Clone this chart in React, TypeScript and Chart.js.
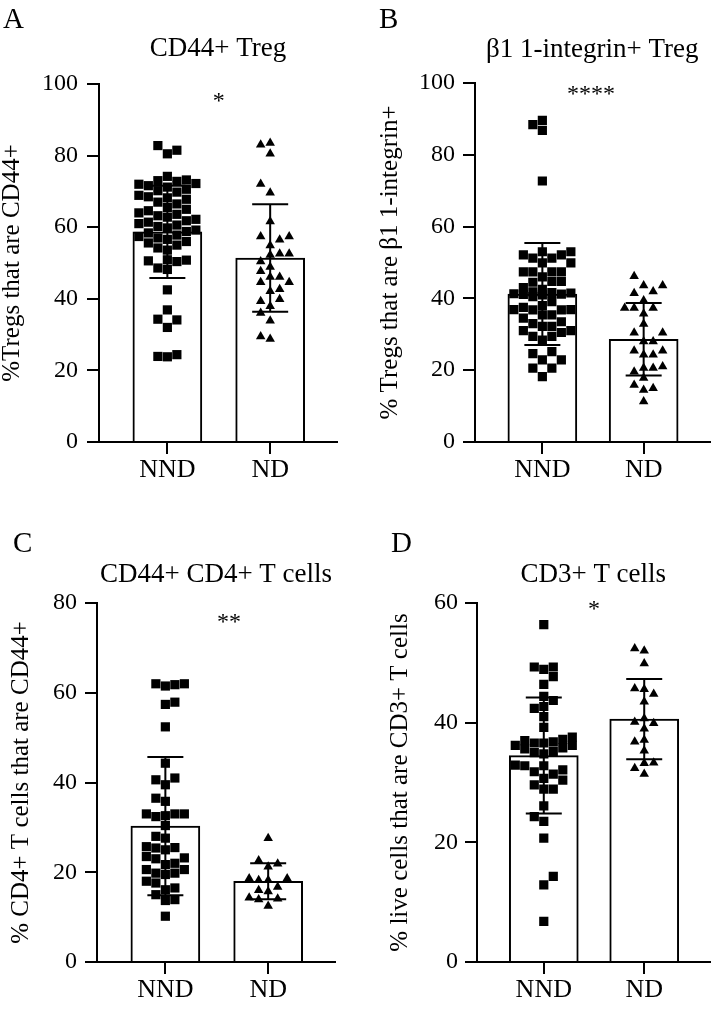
import React, { useEffect, useRef } from "react";
import { Chart, registerables } from "chart.js";

Chart.register(...registerables);

const FONT = '"Liberation Serif", "Times New Roman", serif';

const categories = ["NND", "ND"];

// ---------- Panel A: CD44+ Treg ----------
const aNND = [
  82.8, 80.5, 81.5, 74.2, 73.2, 73.0, 72.8, 72.2, 72.0, 71.6, 71.2, 70.6, 70.2, 69.8,
  68.9, 68.5, 68.2, 67.8, 67.0, 66.5, 65.5, 65.0, 64.6, 64.0, 63.6, 63.2, 62.8, 62.2,
  61.8, 61.4, 61.0, 60.6, 60.2, 59.8, 59.2, 58.8, 58.4, 57.8, 57.4, 57.0, 56.6, 56.0,
  55.6, 55.0, 54.2, 53.6, 50.8, 50.6, 50.4, 50.9, 48.6, 48.2, 42.5, 36.9, 34.1, 34.3,
  32.0, 24.4, 23.8, 23.9,
];
const aND = [
  83.0, 83.5, 80.5, 72.1, 69.6, 61.6, 57.4, 57.4, 56.5, 54.9, 52.6, 52.2, 52.6, 50.4,
  48.9, 47.7, 46.1, 44.6, 46.1, 44.6, 42.7, 42.1, 39.9, 39.3, 37.9, 36.0, 33.9, 28.8, 29.5,
];
const aMean = [58.7, 51.4];
const aSD = [12.9, 15.0];

// ---------- Panel B: β1 1-integrin+ Treg ----------
const bNND = [
  88.4, 86.8, 89.6, 72.7, 53.0, 53.0, 52.1, 52.1, 51.2, 51.2, 49.9, 49.9, 47.4, 47.4,
  47.4, 47.4, 46.0, 44.7, 44.7, 44.5, 43.0, 42.5, 41.8, 41.5, 41.2, 41.0, 41.3, 41.6,
  41.1, 40.5, 39.1, 38.0, 37.5, 36.8, 36.8, 36.9, 36.9, 35.4, 35.4, 34.5, 33.5, 33.0,
  32.2, 32.2, 31.0, 31.0, 30.5, 29.4, 29.4, 28.4, 25.2, 24.6, 22.9, 22.9, 20.6, 20.6, 18.2,
];
const bND = [
  46.2, 43.6, 43.6, 41.4, 41.9, 39.4, 37.3, 37.3, 37.3, 35.7, 32.9, 30.4, 30.4, 28.0,
  28.0, 25.4, 25.4, 24.3, 24.3, 21.0, 20.6, 20.6, 17.8, 19.6, 15.0, 15.9, 14.5, 11.3,
];
const bMean = [41.2, 28.6];
const bSD = [14.2, 10.1];

// ---------- Panel C: CD44+ CD4+ T cells ----------
const cNND = [
  62.0, 61.8, 61.5, 62.0, 57.4, 57.9, 52.4, 44.3, 40.6, 41.0, 39.5, 35.8, 36.5, 33.0,
  32.6, 32.4, 33.0, 33.0, 30.4, 27.6, 28.0, 25.4, 25.0, 23.2, 23.5, 25.5, 25.7, 23.0,
  22.0, 20.6, 19.8, 19.8, 20.6, 21.7, 19.5, 17.6, 16.1, 16.5, 18.0, 15.0, 13.9, 13.7, 10.2,
];
const cND = [
  27.6, 22.6, 21.9, 21.2, 18.6, 18.2, 18.2, 18.6, 16.7, 15.7, 16.0, 14.3, 14.1, 12.5, 13.9,
];
const cMean = [30.3, 18.0];
const cSD = [15.4, 4.0];

// ---------- Panel D: CD3+ T cells ----------
const dNND = [
  56.4, 49.3, 48.9, 49.3, 47.7, 46.4, 44.4, 43.7, 42.4, 42.7, 41.0, 39.2, 37.6, 36.8,
  37.2, 36.6, 36.6, 37.0, 36.2, 35.8, 35.2, 35.6, 36.2, 34.8, 35.0, 32.9, 32.8, 31.8,
  32.1, 32.8, 31.4, 30.7, 30.4, 29.6, 28.9, 28.9, 26.1, 24.3, 23.5, 20.7, 14.3, 12.9, 6.8,
];
const dND = [
  52.4, 52.0, 49.9, 45.7, 44.8, 45.6, 43.5, 39.9, 39.0, 40.7, 40.1, 36.8, 37.1, 35.3,
  33.2, 32.4, 33.3, 31.4,
];
const dMean = [34.5, 40.6];
const dSD = [9.7, 6.7];

const yTicksA = [0, 20, 40, 60, 80, 100];
const yTicksC = [0, 20, 40, 60, 80];
const yTicksD = [0, 20, 40, 60];

interface PanelDef {
  letter: string;
  title: string;
  yTitle: string;
  sig: string;
  sigX: number;
  sigY: number;
  yTicks: number[];
  groups: number[][];
  means: number[];
  sds: number[];
  box: { left: number; top: number; width: number; height: number };
  area: { left: number; right: number; top: number; bottom: number };
  letterPos: [number, number];
  titleBase: number;
  yTitlePad: number;
  tickPad: number;
}

const panels: PanelDef[] = [
  {
    letter: "A", title: "CD44+ Treg", yTitle: "%Tregs that are CD44+", sig: "*",
    sigX: 0.5, sigY: 96.2, yTicks: yTicksA, groups: [aNND, aND], means: aMean, sds: aSD,
    box: { left: 0, top: 0, width: 358, height: 505 },
    area: { left: 99, right: 337, top: 84, bottom: 442 },
    letterPos: [3, 28], titleBase: 56, yTitlePad: 0, tickPad: 9,
  },
  {
    letter: "B", title: "β1 1-integrin+ Treg", yTitle: "% Tregs that are β1 1-integrin+", sig: "****",
    sigX: 0.48, sigY: 97.8, yTicks: yTicksA, groups: [bNND, bND], means: bMean, sds: bSD,
    box: { left: 358, top: 0, width: 358, height: 505 },
    area: { left: 117, right: 354, top: 83, bottom: 442 },
    letterPos: [21, 28], titleBase: 57, yTitlePad: 19.5, tickPad: 8,
  },
  {
    letter: "C", title: "CD44+ CD4+ T cells", yTitle: "% CD4+ T cells that are CD44+", sig: "**",
    sigX: 0.62, sigY: 76.5, yTicks: yTicksC, groups: [cNND, cND], means: cMean, sds: cSD,
    box: { left: 0, top: 520, width: 358, height: 490 },
    area: { left: 97, right: 335, top: 83, bottom: 442 },
    letterPos: [13, 32], titleBase: 62, yTitlePad: 9, tickPad: 8,
  },
  {
    letter: "D", title: "CD3+ T cells", yTitle: "% live cells that are CD3+ T cells", sig: "*",
    sigX: 0.5, sigY: 59.6, yTicks: yTicksD, groups: [dNND, dND], means: dMean, sds: dSD,
    box: { left: 358, top: 520, width: 358, height: 490 },
    area: { left: 119, right: 354, top: 83, bottom: 442 },
    letterPos: [33, 32], titleBase: 62, yTitlePad: 29.5, tickPad: 7,
  },
];

// Beeswarm: returns horizontal pixel offsets for points given their pixel y.
function swarm(py: number[], size: number, step: number, maxK: number): number[] {
  const idx = py.map((_, i) => i).sort((a, b) => py[b] - py[a]);
  const placed: { x: number; y: number }[] = [];
  const out = new Array(py.length).fill(0);
  idx.forEach((i, n) => {
    const y = py[i];
    const sgn = n % 2 === 0 ? 1 : -1;
    const cands = [0];
    for (let k = 1; k <= maxK; k++) cands.push(sgn * k * step, -sgn * k * step);
    let best = 0;
    let bestCost = Infinity;
    for (const c of cands) {
      let cost = 0;
      for (const p of placed) {
        const dx = Math.abs(p.x - c);
        const dy = Math.abs(p.y - y);
        if (dx < size && dy < size) cost += (size - dx) * (size - dy);
      }
      if (cost === 0) {
        best = c;
        bestCost = 0;
        break;
      }
      if (cost < bestCost - 1e-6) {
        bestCost = cost;
        best = c;
      }
    }
    out[i] = best;
    placed.push({ x: best, y });
  });
  return out;
}

function Panel({ def }: { def: PanelDef }) {
  const ref = useRef<HTMLCanvasElement | null>(null);

  useEffect(() => {
    const canvas = ref.current;
    if (!canvas) return;
    const { box, area } = def;
    const yMax = def.yTicks[def.yTicks.length - 1];

    const errorBars = {
      id: "errorBars",
      afterDatasetsDraw(chart: any) {
        const ctx = chart.ctx;
        const xs = chart.scales.x;
        const ys = chart.scales.y;
        ctx.save();
        ctx.strokeStyle = "#000";
        ctx.lineWidth = 2;
        def.means.forEach((m, i) => {
          const x = xs.getPixelForValue(i);
          const yt = ys.getPixelForValue(m + def.sds[i]);
          const yb = ys.getPixelForValue(m - def.sds[i]);
          ctx.beginPath();
          ctx.moveTo(x, yt);
          ctx.lineTo(x, yb);
          ctx.moveTo(x - 18, yt);
          ctx.lineTo(x + 18, yt);
          ctx.moveTo(x - 18, yb);
          ctx.lineTo(x + 18, yb);
          ctx.stroke();
        });
        ctx.restore();
      },
    };

    const texts = {
      id: "panelTexts",
      afterDraw(chart: any) {
        const ctx = chart.ctx;
        const ca = chart.chartArea;
        const xs = chart.scales.x;
        const ys = chart.scales.y;
        ctx.save();
        ctx.fillStyle = "#000";
        ctx.textBaseline = "alphabetic";
        ctx.textAlign = "left";
        ctx.font = `29px ${FONT}`;
        ctx.fillText(def.letter, def.letterPos[0], def.letterPos[1]);
        ctx.textAlign = "center";
        ctx.font = `27px ${FONT}`;
        ctx.fillText(def.title, (ca.left + ca.right) / 2, def.titleBase);
        ctx.font = `24px ${FONT}`;
        const m = ctx.measureText(def.sig);
        const cx = xs.getPixelForValue(def.sigX);
        const cy = ys.getPixelForValue(def.sigY);
        ctx.fillText(def.sig, cx, cy + (m.actualBoundingBoxAscent - m.actualBoundingBoxDescent) / 2);
        ctx.restore();
      },
    };

    const chart = new Chart(canvas, {
      type: "scatter",
      data: {
        datasets: [
          {
            type: "scatter",
            data: def.groups[0].map((v) => ({ x: 0, y: v })),
            pointStyle: "rect",
            pointRadius: 6.5,
            pointHoverRadius: 6.5,
            backgroundColor: "#000",
            borderWidth: 0,
            order: 0,
          },
          {
            type: "scatter",
            data: def.groups[1].map((v) => ({ x: 1, y: v })),
            pointStyle: "triangle",
            pointRadius: 5.5,
            pointHoverRadius: 5.5,
            backgroundColor: "#000",
            borderWidth: 0,
            order: 0,
          },
          {
            type: "bar",
            data: def.means.map((m, i) => ({ x: i, y: m })),
            backgroundColor: "#fff",
            borderColor: "#000",
            borderWidth: 2,
            borderSkipped: "start",
            barThickness: 69,
            order: 1,
          } as any,
        ],
      },
      options: {
        animation: false,
        responsive: false,
        maintainAspectRatio: false,
        events: [],
        layout: {
          padding: { left: 0, right: box.width - area.right, top: area.top, bottom: 0 },
        },
        plugins: {
          legend: { display: false },
          tooltip: { enabled: false },
          title: { display: false },
        },
        scales: {
          x: {
            type: "linear",
            min: -0.665,
            max: 1.65,
            offset: false,
            grid: {
              display: true,
              offset: false,
              drawOnChartArea: false,
              drawTicks: true,
              tickLength: 12,
              color: "#000",
              lineWidth: 2,
            },
            border: { display: true, color: "#000", width: 2 },
            ticks: {
              color: "#000",
              font: { family: FONT, size: 26 },
              padding: 1,
              autoSkip: false,
              maxRotation: 0,
              callback: (v: any) => categories[v as number] ?? "",
            },
            afterBuildTicks: (s: any) => {
              s.ticks = categories.map((_, i) => ({ value: i }));
            },
            afterFit: (s: any) => {
              s.height = box.height - area.bottom;
            },
          },
          y: {
            type: "linear",
            min: 0,
            max: yMax,
            grid: {
              display: true,
              offset: false,
              drawOnChartArea: false,
              drawTicks: true,
              tickLength: 12,
              color: "#000",
              lineWidth: 2,
            },
            border: { display: true, color: "#000", width: 2 },
            ticks: {
              color: "#000",
              font: { family: FONT, size: 24 },
              padding: def.tickPad,
              stepSize: 20,
            },
            afterBuildTicks: (s: any) => {
              s.ticks = def.yTicks.map((v) => ({ value: v }));
            },
            title: {
              display: true,
              text: def.yTitle,
              color: "#000",
              font: { family: FONT, size: 25, lineHeight: 1 },
              padding: { top: def.yTitlePad, bottom: 0 },
            },
            afterFit: (s: any) => {
              s.width = area.left;
            },
          },
        },
      } as any,
      plugins: [errorBars, texts],
    });

    // Arrange the points into a beeswarm using the library's scales.
    const xs = chart.scales.x;
    const ys = chart.scales.y;
    const unit = xs.getPixelForValue(1) - xs.getPixelForValue(0);
    def.groups.forEach((vals, gi) => {
      const py = vals.map((v) => ys.getPixelForValue(v));
      const offs = swarm(py, 9.4, 9.5, 3);
      (chart.data.datasets[gi] as any).data = vals.map((v, j) => ({ x: gi + offs[j] / unit, y: v }));
    });
    chart.update("none");

    return () => chart.destroy();
  }, [def]);

  return (
    <canvas
      ref={ref}
      width={def.box.width}
      height={def.box.height}
      style={{
        position: "absolute",
        left: def.box.left,
        top: def.box.top,
        width: def.box.width,
        height: def.box.height,
      }}
    />
  );
}

export default function App() {
  return (
    <div
      style={{
        position: "absolute",
        left: 0,
        top: 0,
        width: 716,
        height: 1010,
        background: "#fff",
        overflow: "hidden",
      }}
    >
      {panels.map((p) => (
        <Panel key={p.letter} def={p} />
      ))}
    </div>
  );
}
